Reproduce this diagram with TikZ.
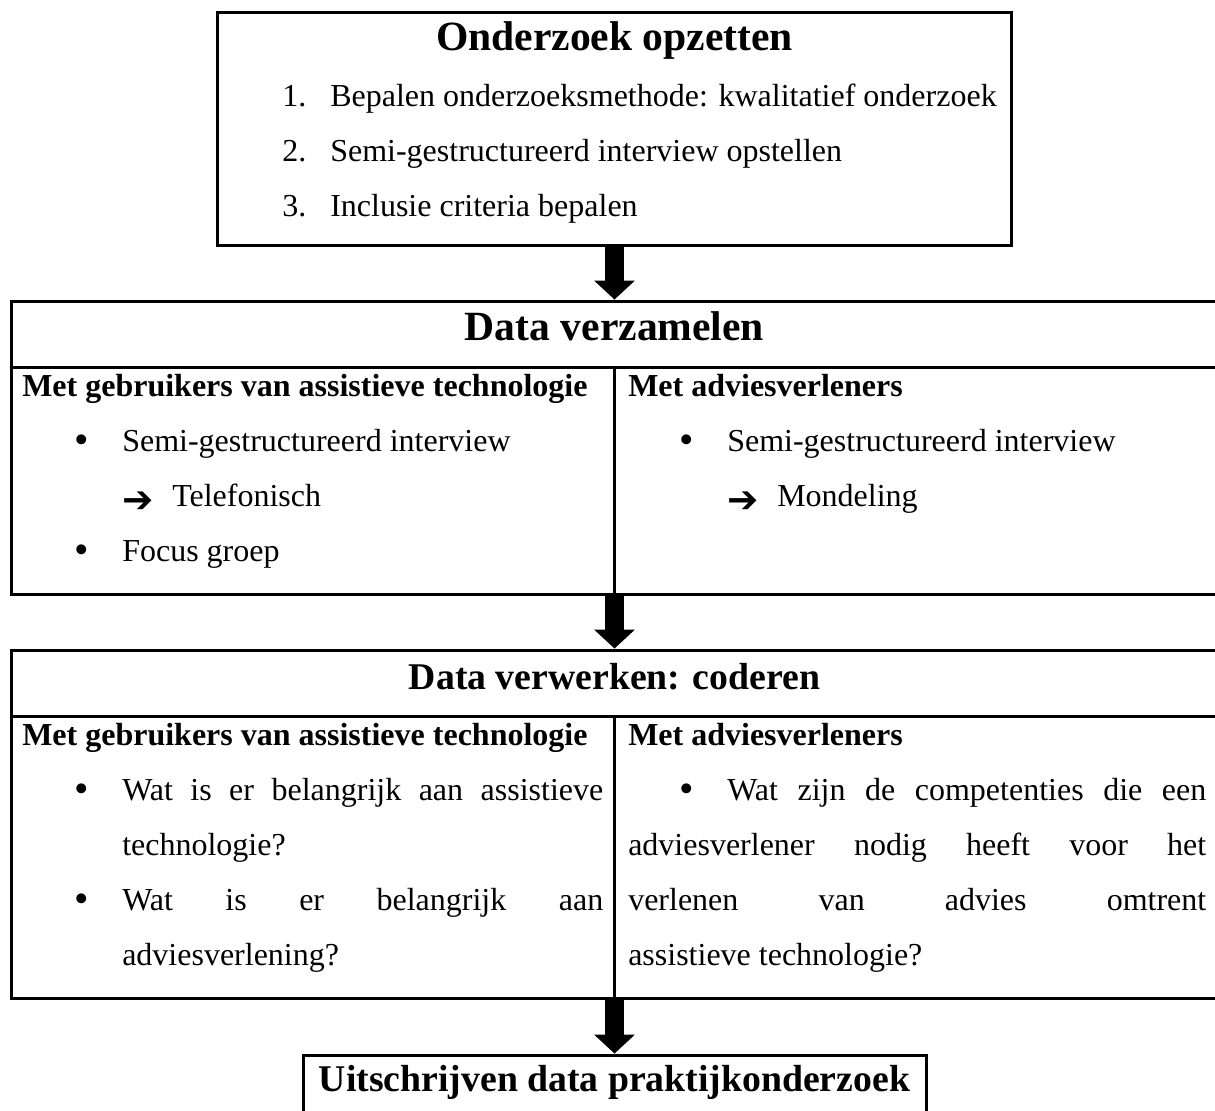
\documentclass[tikz,border=0pt]{standalone}
\usepackage{fontspec}
\setmainfont{Liberation Serif}
\newfontfamily\arrowfont{DejaVu Sans}
\usetikzlibrary{arrows.meta}

\newcommand\bodysize{\fontsize{24}{28}\selectfont}
\newcommand\headsize{\fontsize{31.2}{36}\selectfont\bfseries}
\newcommand\smallheadsize{\fontsize{28.3}{33}\selectfont\bfseries}
\newcommand\spread[2]{\makebox[#1][s]{#2}}

\tikzset{
  box/.style={draw, line width=2.25pt, inner sep=0pt},
  rule/.style={line width=2.25pt},
  flow/.style={line width=14.25pt, -{Triangle[width=30.75pt,length=14.25pt,line width=0pt]}},
  txt/.style={anchor=base west, inner sep=0pt, font=\bodysize},
  boldtxt/.style={anchor=base west, inner sep=0pt, font=\bodysize\bfseries},
  head/.style={anchor=base, inner sep=0pt, font=\headsize},
  smallhead/.style={anchor=base, inner sep=0pt, font=\smallheadsize},
  dot/.style={anchor=base, inner sep=0pt, font=\fontsize{31}{31}\selectfont},
  pointer/.style={anchor=base west, inner sep=0pt, font=\arrowfont\fontsize{28}{28}\selectfont},
}

\begin{document}
\begin{tikzpicture}[x=0.75pt, y=-0.75pt]
\path[use as bounding box] (0,0) rectangle (1215,1111);
\clip (0,0) rectangle (1215,1111);

% ---- frames ----
\node[box, minimum width=794*0.75pt, minimum height=233*0.75pt] (setup) at (614.5,128.5) {};
\node[box, minimum width=1207*0.75pt, minimum height=293*0.75pt] (collect) at (614.5,447.5) {};
\node[box, minimum width=1207*0.75pt, minimum height=348*0.75pt] (code) at (614.5,824) {};
\node[box, minimum width=623*0.75pt, minimum height=75*0.75pt] (report) at (614.5,1092.5) {};

% ---- table rules inside the two wide frames ----
\coordinate (collectsplit) at (614.5,367);
\draw[rule] (collect.west |- collectsplit) -- (collect.east |- collectsplit);
\draw[rule] (collectsplit) -- (collectsplit |- collect.south);
\coordinate (codesplit) at (614.5,716);
\draw[rule] (code.west |- codesplit) -- (code.east |- codesplit);
\draw[rule] (codesplit) -- (codesplit |- code.south);

% ---- block arrows between the stages ----
\draw[flow] (setup.south) -- (collect.north);
\draw[flow] (collect.south) -- (code.north);
\draw[flow] (code.south) -- (report.north);

% ---- stage 1 ----
\node[head] (setuptitle) at (614.5,50) {Onderzoek opzetten};
\node[txt] (n1) at (282,106) {1.};
\node[txt] (s1) at (330,106) {Bepalen onderzoeksmethode: kwalitatief onderzoek};
\node[txt] (n2) at (282,161) {2.};
\node[txt] (s2) at (330,161) {Semi-gestructureerd interview opstellen};
\node[txt] (n3) at (282,216) {3.};
\node[txt] (s3) at (330,216) {Inclusie criteria bepalen};

% ---- stage 2 ----
\node[head] (collecttitle) at (614.5,340) {Data verzamelen};
\node[boldtxt] (cl0) at (22,396) {Met gebruikers van assistieve technologie};
\node[boldtxt] (cr0) at (628,396) {Met adviesverleners};
\node[dot] (clb1) at (82,453) {•};
\node[txt] (cl1) at (122,451) {Semi-gestructureerd interview};
\node[pointer] (clp) at (122,512) {➔};
\node[txt] (cl2) at (172,506) {Telefonisch};
\node[dot] (clb2) at (82,563) {•};
\node[txt] (cl3) at (122,561) {Focus groep};
\node[dot] (crb1) at (687,453) {•};
\node[txt] (cr1) at (727,451) {Semi-gestructureerd interview};
\node[pointer] (crp) at (727,512) {➔};
\node[txt] (cr2) at (777,506) {Mondeling};

% ---- stage 3 ----
\node[smallhead] (codetitle) at (614.5,689) {Data verwerken: coderen};
\node[boldtxt] (dl0) at (22,745) {Met gebruikers van assistieve technologie};
\node[boldtxt] (dr0) at (628,745) {Met adviesverleners};
\node[dot] (dlb1) at (82,802) {•};
\node[txt] (dl1) at (122,800) {\spread{360.75pt}{Wat is er belangrijk aan assistieve}};
\node[txt] (dl2) at (122,855) {technologie?};
\node[dot] (dlb2) at (82,912) {•};
\node[txt] (dl3) at (122,910) {\spread{360.75pt}{Wat is er belangrijk aan}};
\node[txt] (dl4) at (122,965) {adviesverlening?};
\node[dot] (drb1) at (687,802) {•};
\node[txt] (dr1) at (727,800) {\spread{359.25pt}{Wat zijn de competenties die een}};
\node[txt] (dr2) at (628,855) {\spread{433.5pt}{adviesverlener nodig heeft voor het}};
\node[txt] (dr3) at (628,910) {\spread{433.5pt}{verlenen van advies omtrent}};
\node[txt] (dr4) at (628,965) {assistieve technologie?};

% ---- stage 4 ----
\node[smallhead] (reporttitle) at (614.5,1091) {Uitschrijven data praktijkonderzoek};
\end{tikzpicture}
\end{document}
